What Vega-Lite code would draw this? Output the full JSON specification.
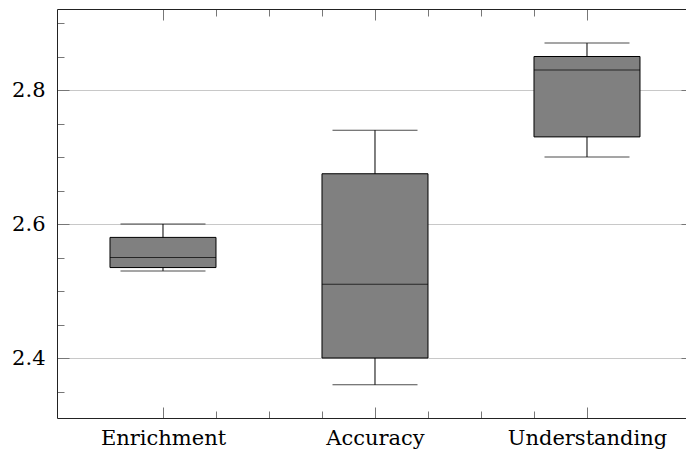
{
  "$schema": "https://vega.github.io/schema/vega-lite/v6.json",
  "width": 629,
  "height": 409,
  "autosize": {"type": "none"},
  "padding": {"left": 57, "top": 9, "right": 0, "bottom": 34},
  "background": "white",
  "config": {
    "font": "DejaVu Serif",
    "view": {"stroke": null},
    "axis": {
      "labelFont": "DejaVu Serif",
      "labelFontSize": 21,
      "labelColor": "black",
      "domainColor": "#222222",
      "domainWidth": 1,
      "tickColor": "#777777",
      "tickWidth": 1,
      "gridColor": "#c8c8c8",
      "gridWidth": 1,
      "title": null
    }
  },
  "data": {
    "values": [
      {"category": "Enrichment", "pos": 1, "lower": 2.53, "q1": 2.535, "median": 2.55, "q3": 2.58, "upper": 2.6},
      {"category": "Accuracy", "pos": 2, "lower": 2.36, "q1": 2.4, "median": 2.51, "q3": 2.675, "upper": 2.74},
      {"category": "Understanding", "pos": 3, "lower": 2.7, "q1": 2.73, "median": 2.83, "q3": 2.85, "upper": 2.87}
    ]
  },
  "resolve": {"axis": {"x": "independent", "y": "independent"}},
  "layer": [
    {
      "mark": {"type": "rule", "color": "black", "strokeWidth": 1},
      "encoding": {
        "x": {
          "field": "pos", "type": "quantitative",
          "scale": {"domain": [0.5, 3.467], "nice": false, "zero": false, "padding": 0},
          "axis": {
            "orient": "bottom",
            "values": [1, 1.25, 1.5, 1.75, 2, 2.25, 2.5, 2.75, 3],
            "tickSize": {"condition": {"test": "datum.value % 1 === 0", "value": -11}, "value": -7},
            "labelExpr": "datum.value === 1 ? 'Enrichment' : datum.value === 2 ? 'Accuracy' : datum.value === 3 ? 'Understanding' : ''",
            "labelFont": "DejaVu Serif",
            "labelPadding": 20,
            "labelFlush": false,
            "labelOverlap": false,
            "grid": false,
            "domain": true
          }
        },
        "y": {
          "field": "lower", "type": "quantitative",
          "scale": {"domain": [2.31045, 2.9209], "nice": false, "zero": false, "padding": 0},
          "axis": {
            "orient": "left",
            "values": [2.35, 2.4, 2.45, 2.5, 2.55, 2.6, 2.65, 2.7, 2.75, 2.8, 2.85, 2.9],
            "tickSize": {"condition": {"test": "abs(datum.value*5 - round(datum.value*5)) < 0.001", "value": -12}, "value": -7},
            "labelExpr": "abs(datum.value*5 - round(datum.value*5)) < 0.001 ? format(datum.value, '.1f') : ''",
            "labelFont": "DejaVu Serif",
            "labelPadding": 24,
            "labelOverlap": false,
            "labelFlush": false,
            "grid": true,
            "gridOpacity": {"condition": {"test": "abs(datum.value*5 - round(datum.value*5)) < 0.001", "value": 1}, "value": 0},
            "domain": true
          }
        },
        "y2": {"field": "upper"}
      }
    },
    {
      "mark": {"type": "bar", "orient": "vertical", "size": 106, "fill": "#808080", "stroke": "black", "strokeWidth": 1},
      "encoding": {
        "x": {
          "field": "pos", "type": "quantitative",
          "axis": {
            "orient": "top",
            "values": [1, 1.25, 1.5, 1.75, 2, 2.25, 2.5, 2.75, 3],
            "tickSize": {"condition": {"test": "datum.value % 1 === 0", "value": -11}, "value": -7},
            "labels": false,
            "grid": false,
            "domain": true
          }
        },
        "y": {
          "field": "q1", "type": "quantitative",
          "axis": {
            "orient": "right",
            "values": [2.4, 2.6, 2.8],
            "tickSize": -5,
            "labels": false,
            "grid": false,
            "domain": false
          }
        },
        "y2": {"field": "q3"}
      }
    },
    {
      "mark": {"type": "tick", "orient": "horizontal", "size": 85, "thickness": 1, "color": "black"},
      "encoding": {
        "x": {"field": "pos", "type": "quantitative", "axis": null},
        "y": {"field": "lower", "type": "quantitative", "axis": null}
      }
    },
    {
      "mark": {"type": "tick", "orient": "horizontal", "size": 85, "thickness": 1, "color": "black"},
      "encoding": {
        "x": {"field": "pos", "type": "quantitative", "axis": null},
        "y": {"field": "upper", "type": "quantitative", "axis": null}
      }
    },
    {
      "mark": {"type": "tick", "orient": "horizontal", "size": 106, "thickness": 1, "color": "black"},
      "encoding": {
        "x": {"field": "pos", "type": "quantitative", "axis": null},
        "y": {"field": "median", "type": "quantitative", "axis": null}
      }
    }
  ]
}
